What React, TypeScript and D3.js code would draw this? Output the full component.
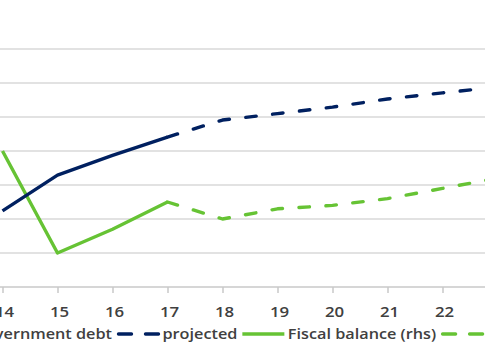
import * as d3 from 'd3';
import { useEffect, useRef } from 'react';

// years shown on the axis (20xx), 23 sits just past the right edge
const years = [14, 15, 16, 17, 18, 19, 20, 21, 22, 23];
const tickYears = [14, 15, 16, 17, 18, 19, 20, 21, 22];

const debtYears = [14, 15, 16, 17];
const debt = [22.4, 32.9, 38.7, 44.1];
const projYears = [17, 18, 19, 20, 21, 22, 23];
const debtProjected = [44.1, 49.1, 51.0, 52.9, 55.3, 57.1, 58.8];

const balance = [0.0, -3.0, -2.3, -1.5];
const balanceProjected = [-1.5, -2.0, -1.7, -1.6, -1.4, -1.1, -0.8];

const leftTicks = [0, 10, 20, 30, 40, 50, 60, 70];
const legendLabels = ['Government debt', 'projected', 'Fiscal balance (rhs)', 'projected'];

const NAVY = '#002060';
const GREEN = '#66c334';

export default function App() {
  const ref = useRef<SVGSVGElement | null>(null);

  useEffect(() => {
    const svg = d3.select(ref.current);
    const width = 485;
    const height = 360;
    svg.selectAll('*').remove();
    svg.attr('width', width).attr('height', height);

    const x = d3.scalePoint<number>().domain(years).range([2.5, 2.5 + 55 * 9]);
    const yL = d3.scaleLinear().domain([0, 70]).range([287, 49]);
    const yR = d3.scaleLinear().domain([-4, 3]).range([287, 49]);

    // gridlines
    svg.append('g')
      .selectAll('line')
      .data(leftTicks.slice(1))
      .join('line')
      .attr('x1', -40).attr('x2', width + 40)
      .attr('y1', d => yL(d)).attr('y2', d => yL(d))
      .attr('stroke', '#d9d9d9').attr('stroke-width', 1.5);

    // x axis
    const axis = svg.append('g')
      .attr('transform', `translate(0,${yL(0)})`)
      .call(d3.axisBottom(x).tickValues(tickYears).tickSize(6).tickSizeOuter(0).tickPadding(14));
    axis.select('.domain').remove();
    axis.append('line')
      .attr('x1', -40).attr('x2', width + 40)
      .attr('stroke', '#c8c8c8').attr('stroke-width', 1.5);
    axis.selectAll('.tick line').attr('stroke', '#c8c8c8').attr('stroke-width', 1.5);
    axis.selectAll('.tick text')
      .attr('fill', '#404040')
      .attr('font-family', 'Open Sans')
      .attr('font-size', 14)
      .attr('font-weight', 600)
      .attr('transform', 'translate(1.5,0) scale(1.2,1)');

    const lineL = d3.line<[number, number]>().x(d => x(d[0])!).y(d => yL(d[1]));
    const lineR = d3.line<[number, number]>().x(d => x(d[0])!).y(d => yR(d[1]));

    const dash = '10.5,16.5';
    const series = [
      { pts: d3.zip(projYears, balanceProjected), gen: lineR, color: GREEN, dashed: true },
      { pts: d3.zip(debtYears, balance), gen: lineR, color: GREEN, dashed: false },
      { pts: d3.zip(projYears, debtProjected), gen: lineL, color: NAVY, dashed: true },
      { pts: d3.zip(debtYears, debt), gen: lineL, color: NAVY, dashed: false },
    ];
    series.forEach(s => {
      svg.append('path')
        .attr('d', s.gen(s.pts as [number, number][]))
        .attr('fill', 'none')
        .attr('stroke', s.color)
        .attr('stroke-width', 3.4)
        .attr('stroke-linecap', s.dashed ? 'round' : 'butt')
        .attr('stroke-linejoin', 'round')
        .attr('stroke-dasharray', s.dashed ? dash : null);
    });

    // legend
    const legendItems = [
      { color: NAVY, dashed: false },
      { color: NAVY, dashed: true },
      { color: GREEN, dashed: false },
      { color: GREEN, dashed: true },
    ];
    const lg = svg.append('g');
    let cursor = 0;
    let secondStart = 0;
    legendItems.forEach((it, i) => {
      if (i === 1) secondStart = cursor;
      lg.append('line')
        .attr('x1', cursor + (it.dashed ? 1.5 : 0)).attr('x2', cursor + 42)
        .attr('y1', 334).attr('y2', 334)
        .attr('stroke', it.color)
        .attr('stroke-width', 3.4)
        .attr('stroke-linecap', it.dashed ? 'round' : 'butt')
        .attr('stroke-dasharray', it.dashed ? '13,14' : null);
      cursor += 42 + 3.5;
      const t = lg.append('text')
        .attr('transform', `translate(${cursor},339) scale(1.16,1)`)
        .attr('fill', '#404040')
        .attr('font-family', 'Open Sans')
        .attr('font-size', 14)
        .attr('font-weight', 600)
        .text(legendLabels[i]);
      const w = (t.node() as SVGTextElement).getComputedTextLength() * 1.16;
      cursor += w + 5;
    });
    lg.attr('transform', `translate(${117 - secondStart},0)`);
  }, []);

  return (
    <svg
      ref={ref}
      style={{ position: 'absolute', left: 0, top: 0, display: 'block', background: '#fff' }}
    />
  );
}
